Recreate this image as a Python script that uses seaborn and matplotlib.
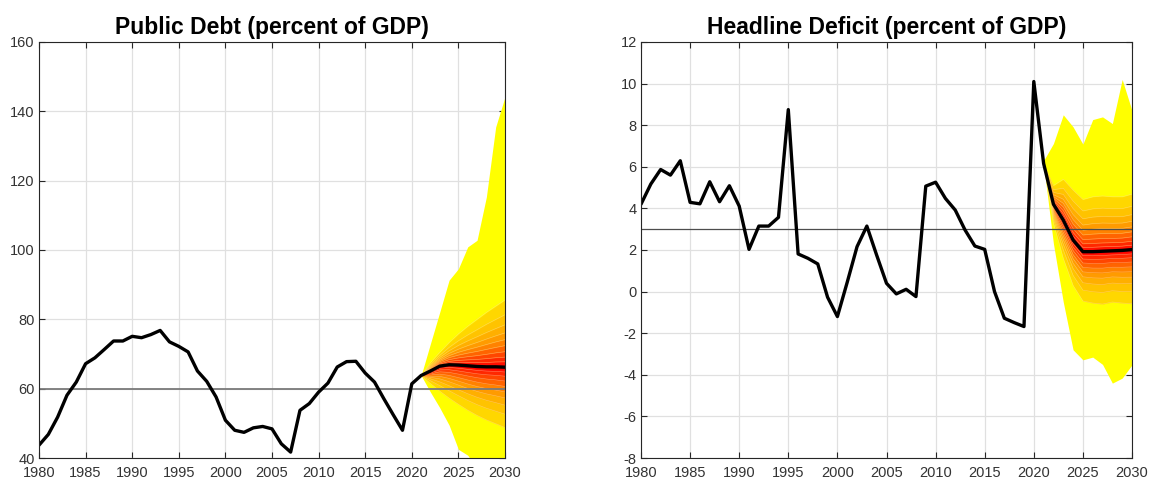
import numpy as np
import matplotlib
matplotlib.use("Agg")
import matplotlib.pyplot as plt
import seaborn as sns
import pandas as pd

# --- data ---
years = list(range(1980, 2031))

debt = [43.7, 46.8, 51.8, 58.1, 61.9, 67.2, 68.9, 71.3, 73.75, 73.75,
        75.1, 74.7, 75.6, 76.8, 73.5, 72.2, 70.6, 65.1, 62.1, 57.6,
        50.9, 48.0, 47.4, 48.7, 49.1, 48.4, 44.1, 41.7, 53.75, 55.7,
        59.0, 61.6, 66.25, 67.8, 67.9, 64.5, 61.9, 57.1, 52.5, 48.0,
        61.4, 63.8, 65.1, 66.5, 66.9, 66.8, 66.6, 66.4, 66.3, 66.3, 66.2]

deficit = [4.2, 5.17, 5.87, 5.6, 6.29, 4.29, 4.22, 5.28, 4.32, 5.09,
           4.11, 2.03, 3.15, 3.15, 3.57, 8.75, 1.81, 1.6, 1.33, -0.27,
           -1.2, 0.45, 2.16, 3.15, 1.75, 0.4, -0.11, 0.11, -0.24, 5.07,
           5.26, 4.48, 3.92, 2.96, 2.19, 2.03, 0.0, -1.28, -1.49, -1.68,
           10.1, 6.16, 4.2, 3.44, 2.48, 1.92, 1.92, 1.94, 1.96, 1.98, 2.02]

fan_years = list(range(2021, 2031))

debt_max = [63.8, 73.0, 82.1, 91.3, 94.6, 100.9, 102.8, 115.3, 135.5, 144.2]
debt_min = [63.8, 59.0, 54.5, 49.5, 42.5, 40.8, 37.0, 35.0, 34.0, 33.0]
debt_p95 = [63.8, 67.5, 70.5, 73.3, 75.8, 78.0, 80.0, 82.0, 83.8, 85.6]
debt_p5 = [63.8, 61.5, 59.3, 57.3, 55.5, 53.8, 52.3, 51.0, 49.9, 48.8]

def_max = [6.3, 7.12, 8.5, 7.92, 7.09, 8.27, 8.4, 8.08, 10.2, 8.7]
def_min = [6.1, 2.3, -0.5, -2.8, -3.28, -3.15, -3.5, -4.4, -4.16, -3.52]
def_p95 = [6.16, 5.1, 5.4, 4.88, 4.43, 4.56, 4.6, 4.56, 4.56, 4.69]
def_p5 = [6.16, 3.3, 1.6, 0.3, -0.45, -0.55, -0.6, -0.5, -0.55, -0.58]

# band edges as share of the 5-95 spread (outer -> inner)
band_frac = [1.0, 0.78, 0.63, 0.51, 0.41, 0.32, 0.23, 0.15, 0.08]
band_green = [215, 195, 175, 155, 130, 100, 70, 40, 15]

debt_ref = 60
def_ref = 3

sns.set_theme(style="whitegrid")
plt.rcParams['font.family'] = ['Liberation Sans', 'DejaVu Sans']
plt.rcParams['axes.unicode_minus'] = False

DARK = "#262626"


def draw_panel(ax, series, fmax, fmin, p95, p5, ref, ylim, yticks, title, ref_color, ref_lw):
    df = pd.DataFrame({"year": years, "value": series})
    med = np.array(series[-len(fan_years):])
    hi = np.array(p95)
    lo = np.array(p5)

    # outer min/max band
    ax.fill_between(fan_years, fmin, fmax, color="#ffff00", lw=0, zorder=1)
    # quantile bands, outer to inner
    for f, g in zip(band_frac, band_green):
        ax.fill_between(fan_years, med - f * (med - lo), med + f * (hi - med),
                        color=(1.0, g / 255, 0.0), lw=0, zorder=2)
        ax.plot(fan_years, med + f * (hi - med), color=(1, 0.85, 0.6), lw=0.4, alpha=0.6, zorder=2)
        ax.plot(fan_years, med - f * (med - lo), color=(1, 0.85, 0.6), lw=0.4, alpha=0.6, zorder=2)
    ax.fill_between(fan_years, med - 0.04 * (med - lo), med + 0.04 * (hi - med),
                    color=(1.0, 0.0, 0.0), lw=0, zorder=2)

    ax.axhline(ref, color=ref_color, lw=ref_lw, zorder=3)
    sns.lineplot(data=df, x="year", y="value", ax=ax, color="black", lw=2.4, zorder=4)

    ax.set_xlim(1980, 2030)
    ax.set_ylim(*ylim)
    ax.set_xticks(range(1980, 2031, 5))
    ax.set_yticks(yticks)
    ax.set_xlabel("")
    ax.set_ylabel("")
    ax.set_facecolor("white")
    ax.set_axisbelow(True)
    ax.grid(True, color="#e0e0e0", lw=0.9)
    for s in ax.spines.values():
        s.set_visible(True)
        s.set_color(DARK)
        s.set_linewidth(0.8)
        s.set_zorder(5)
    ax.tick_params(direction="in", length=4, width=0.8, color=DARK,
                   labelcolor="#333333", labelsize=10.5, top=True, right=True,
                   bottom=True, left=True, pad=3)
    ax.tick_params(axis="x", pad=6)
    ax.set_title(title, fontsize=16.5, fontweight="bold", color="black", pad=6)


fig = plt.figure(figsize=(11.51, 4.82), dpi=100)
ax1 = fig.add_axes([39 / 1151, 24 / 482, 466 / 1151, 416 / 482])
ax2 = fig.add_axes([641 / 1151, 24 / 482, 491 / 1151, 416 / 482])

draw_panel(ax1, debt, debt_max, debt_min, debt_p95, debt_p5, debt_ref,
           (40, 160), range(40, 161, 20), "Public Debt (percent of GDP)", "#7a7a7a", 1.3)
draw_panel(ax2, deficit, def_max, def_min, def_p95, def_p5, def_ref,
           (-8, 12), range(-8, 13, 2), "Headline Deficit (percent of GDP)", "#4d4d4d", 0.9)

fig.savefig("out.png", dpi=100)
